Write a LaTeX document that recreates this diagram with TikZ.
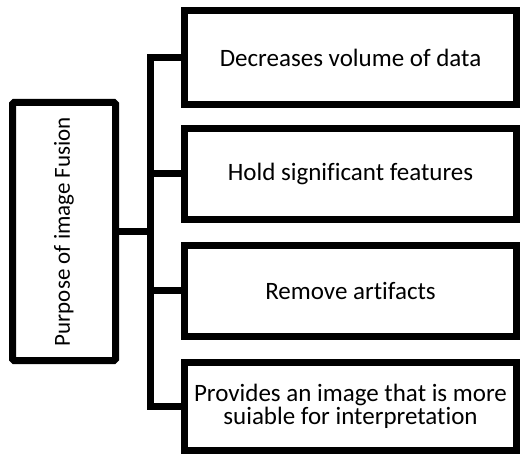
\documentclass[tikz,border=0pt]{standalone}
\usepackage{fontspec}
\setmainfont[Ligatures=NoCommon]{Carlito}
\usetikzlibrary{positioning}

\tikzset{
  purposebox/.style={draw, line width=7pt, inner sep=0pt, outer sep=0pt,
    minimum width=103pt, minimum height=258pt, rounded corners=1.5pt,
    font=\fontsize{23}{27}\selectfont},
  itembox/.style={draw, line width=7pt, inner sep=0pt, outer sep=0pt,
    minimum width=332pt, align=center,
    font=\fontsize{25}{23.5}\selectfont},
  link/.style={line width=7pt}
}

\begin{document}
\begin{tikzpicture}[x=1pt,y=-1pt]
  \useasboundingbox (0,0) rectangle (522,454);

  % Draw the root box with its rotated title
  \node[purposebox] (purpose) at (64,231.5) {};
  \node[rotate=90, font=\fontsize{23}{27}\selectfont] (title) at (purpose.center) {Purpose of image Fusion};

  % Draw the four item boxes
  \node[itembox, minimum height=94pt] (dec)  at (350.5,57.5)  {Decreases volume of data};
  \node[itembox, minimum height=91pt] (hold) at (350.5,174)   {Hold significant features};
  \node[itembox, minimum height=91pt] (rem)  at (350.5,291)   {Remove artifacts};
  \node[itembox, minimum height=88pt] (prov) at (350.5,406.5) {Provides an image that is more\\suiable for interpretation};

  % Draw the bus line and the stubs to the boxes
  \coordinate (bus) at (150.5,0);
  \draw[link] (dec.west) -- (dec.west -| bus) -- (prov.west -| bus) -- (prov.west);
  \draw[link] (hold.west -| bus) -- (hold.west);
  \draw[link] (rem.west -| bus) -- (rem.west);
  \draw[link] (purpose.east) -- (purpose.east -| bus);

\end{tikzpicture}
\end{document}
